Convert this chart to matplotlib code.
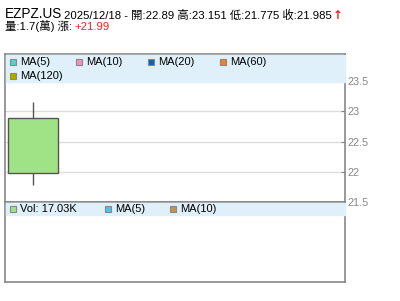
import matplotlib.pyplot as plt
from matplotlib.patches import Rectangle

# quote data
symbol = 'EZPZ.US'
date = '2025/12/18'
opens = [22.89]
highs = [23.151]
lows = [21.775]
closes = [21.985]
volume_k = 17.03
change = '+21.99'
vol_wan = '1.7'

price_ticks = [21.5, 22, 22.5, 23, 23.5]
price_labels = ['21.5', '22', '22.5', '23', '23.5']
ma_names = ['MA(5)', 'MA(10)', 'MA(20)', 'MA(60)', 'MA(120)']
ma_colors = ['#4fd4d0', '#f58fc0', '#0a64b4', '#f48024', '#b4a400']
vol_names = ['Vol: %.2fK' % volume_k, 'MA(5)', 'MA(10)']
vol_colors = ['#a0e387', '#52c0ef', '#c8924a']

W, H = 400, 301
plt.rcParams['font.family'] = ['Liberation Sans', 'Noto Sans CJK TC',
                               'DejaVu Sans']


def fx(px):
    return px / W


def fy(py):
    return 1 - py / H


fig = plt.figure(figsize=(4, 3.01), dpi=100)
ax = fig.add_axes([fx(5), fy(202), fx(340), (202 - 54) / H])
axv = fig.add_axes([fx(5), fy(282), fx(340), (282 - 202) / H])

for a in (ax, axv):
    for s in a.spines.values():
        s.set_color('#888888')
        s.set_linewidth(1.2)
    a.set_xlim(-0.57, 6.23)

# candles
body = [o - c for o, c in zip(opens, closes)]
xs = list(range(len(opens)))
ax.vlines(xs, lows, highs, color='#555555', lw=1, zorder=3)
ax.bar(xs, body, bottom=closes, width=1.0, color='#a0e387',
       edgecolor='#555555', lw=1, zorder=4)

ax.set_ylim(21.5, 21.5 + 2.0 * (202 - 54) / (202 - 81))
ax.set_yticks(price_ticks)
ax.set_yticklabels(price_labels)
ax.yaxis.tick_right()
ax.tick_params(axis='y', direction='in', length=3, color='#888888',
               labelcolor='#888888', labelsize=7.8, pad=2)
ax.tick_params(axis='x', bottom=False, labelbottom=False)
ax.grid(axis='y', color='#dddddd', lw=1, zorder=0)
ax.set_axisbelow(True)

axv.set_xticks([])
axv.set_yticks([])

# legend bands
fig.add_artist(Rectangle((fx(5.6), fy(82)), fx(339), (82 - 54.6) / H,
                         color='#dff0fa', zorder=2, transform=fig.transFigure))
fig.add_artist(Rectangle((fx(5.6), fy(215)), fx(339), (215 - 203) / H,
                         color='#dff0fa', zorder=2, transform=fig.transFigure))


def legend_item(x, y, name, col):
    fig.add_artist(Rectangle((fx(x), fy(y + 3)), fx(6), 6 / H, facecolor=col,
                             edgecolor='#888888', lw=0.8, zorder=3,
                             transform=fig.transFigure))
    fig.text(fx(x + 10), fy(y), name, fontsize=8, va='center', zorder=4)


ma_pos = [(10, 62), (76, 62), (148, 62), (220, 62), (10, 76)]
for (x, y), name, col in zip(ma_pos, ma_names, ma_colors):
    legend_item(x, y, name, col)

vol_pos = [(10, 209), (105, 209), (170, 209)]
for (x, y), name, col in zip(vol_pos, vol_names, vol_colors):
    legend_item(x, y, name, col)

# header text
info = '%s - 開:%.2f 高:%.3f 低:%.3f 收:%.3f' % (date, opens[0], highs[0],
                                               lows[0], closes[0])
fig.text(fx(5), fy(18.5), symbol, fontsize=9.8, va='baseline')
fig.text(fx(64), fy(18.5), info, fontsize=8.2, va='baseline')
fig.text(fx(333), fy(19), '↑', fontsize=8.5, va='baseline',
         color='#ee2222', fontweight='bold', family='DejaVu Sans')
fig.text(fx(5), fy(30.5), '量:%s(萬) 漲:' % vol_wan, fontsize=8.2,
         va='baseline')
fig.text(fx(74), fy(30.5), change, fontsize=8.2, va='baseline',
         color='#ee2222')

fig.savefig('out.png', dpi=100)
